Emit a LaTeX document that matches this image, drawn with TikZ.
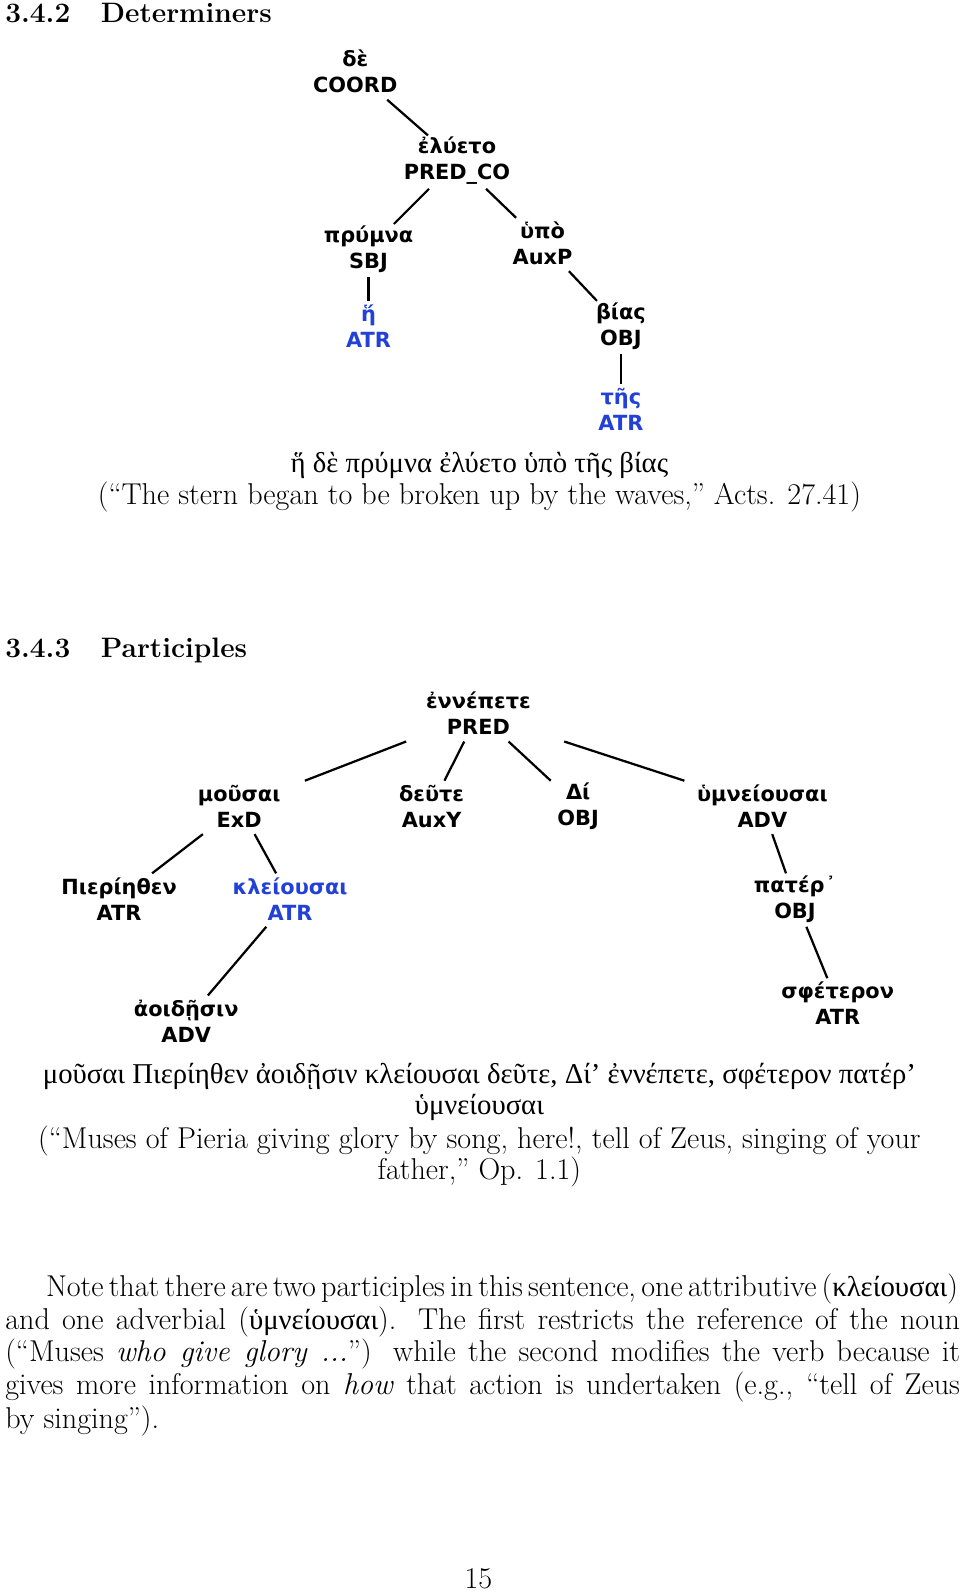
\documentclass[tikz,border=0pt]{standalone}
\usepackage{fontspec}
\usetikzlibrary{calc}
\newfontfamily\grk{Liberation Serif}[Scale=0.953]
\newfontfamily\trf{DejaVu Sans}
\definecolor{atrblue}{RGB}{35,65,215}
\newcommand\tedge[2]{\draw[edge] let \p1=(#1.center), \p2=(#2.center),
  \n1={27.5*veclen((\x2)-(\x1),(\y2)-(\y1))/abs((\y2)-(\y1))},
  \n2={25*veclen((\x2)-(\x1),(\y2)-(\y1))/abs((\y2)-(\y1))} in
  ($(\p1)!\n1!(\p2)$) -- ($(\p2)!\n2!(\p1)$);}
\begin{document}
\begin{tikzpicture}[x=1pt,y=-1pt,
  lbl/.style={font=\trf\bfseries\fontsize{20.5}{25.5}\selectfont, align=center, inner sep=2pt},
  blu/.style={lbl, text=atrblue},
  edge/.style={line width=2.2pt},
  body/.style={font=\fontsize{29.6}{32.3}\selectfont, inner sep=0pt, anchor=base},
  bodyl/.style={body, anchor=base west},
  head/.style={bodyl, font=\fontsize{27.6}{32.3}\selectfont\bfseries}]
\useasboundingbox (0,0) rectangle (943,1568);
% headings
\node[head] (h1) at (5,22) {\makebox[94pt][l]{3.4.2}Determiners};
% tree 1
\node[lbl] (n1) at (349,70.5) {δὲ\\COORD};
\node[lbl] (n2) at (449,158) {ἐλύετο\\PRED\_CO};
\node[lbl] (n3) at (362,245) {πρύμνα\\SBJ};
\node[lbl] (n4) at (533,239) {ὑπὸ\\AuxP};
\node[blu] (n5) at (362,320.5) {ἥ\\ATR};
\node[lbl] (n6) at (610,320.5) {βίας\\OBJ};
\node[blu] (n7) at (610,402.5) {τῆς\\ATR};
\tedge{n1}{n2}
\tedge{n2}{n3}
\tedge{n2}{n4}
\tedge{n3}{n5}
\tedge{n4}{n6}
\tedge{n6}{n7}
\node[body] (c1) at (471,464) {\grk ἥ δὲ πρύμνα ἐλύετο ὑπὸ τῆς βίας};
\node[body] (c2) at (471,496) {(“The stern began to be broken up by the waves,” Acts. 27.41)};
% heading 2
\node[head] (h2) at (5,646) {\makebox[94pt][l]{3.4.3}Participles};
% tree 2
\node[lbl] (m1) at (470,701) {ἐννέπετε\\PRED};
\node[lbl] (m2) at (235,792) {μοῦσαι\\ExD};
\node[lbl] (m3) at (424,792) {δεῦτε\\AuxY};
\node[lbl] (m4) at (568,792) {Δί\\OBJ};
\node[lbl] (m5) at (749,792) {ὑμνείουσαι\\ADV};
\node[lbl] (m6) at (117,883) {Πιερίηθεν\\ATR};
\node[blu] (m7) at (285,883) {κλείουσαι\\ATR};
\node[lbl] (m8) at (781,883) {πατέρ\kern1pt᾿\\OBJ};
\node[lbl] (m9) at (183,1003) {ἀοιδῇσιν\\ADV};
\node[lbl] (m10) at (823,986) {σφέτερον\\ATR};
\tedge{m1}{m2}
\tedge{m1}{m3}
\tedge{m1}{m4}
\tedge{m1}{m5}
\tedge{m2}{m6}
\tedge{m2}{m7}
\tedge{m7}{m9}
\tedge{m5}{m8}
\tedge{m8}{m10}
% caption 2
\node[body] (d1) at (471,1064) {\grk μοῦσαι Πιερίηθεν ἀοιδῇσιν κλείουσαι δεῦτε, Δί’ ἐννέπετε, σφέτερον πατέρ’};
\node[body] (d2) at (471,1095) {\grk ὑμνείουσαι};
\node[body] (d3) at (471,1128) {(“Muses of Pieria giving glory by song, here!, tell of Zeus, singing of your};
\node[body] (d4) at (471,1159) {father,” Op. 1.1)};
% paragraph
\node[bodyl] (p1) at (45,1274) {\spaceskip=.2em plus .2em minus .05em\makebox[896pt][s]{Note that there are two participles in this sentence, one attributive ({\grk κλείουσαι})}};
\node[bodyl] (p2) at (5,1306) {\makebox[938pt][s]{and one adverbial ({\grk ὑμνείουσαι}). The first restricts the reference of the noun}};
\node[bodyl] (p3) at (5,1338) {\makebox[938pt][s]{(“Muses \textit{who give glory ...}”) while the second modifies the verb because it}};
\node[bodyl] (p4) at (5,1370) {\makebox[938pt][s]{gives more information on \textit{how} that action is undertaken (e.g., “tell of Zeus}};
\node[bodyl] (p5) at (5,1403) {by singing”).};
\node[body] (pg) at (470,1561) {15};
\end{tikzpicture}
\end{document}
